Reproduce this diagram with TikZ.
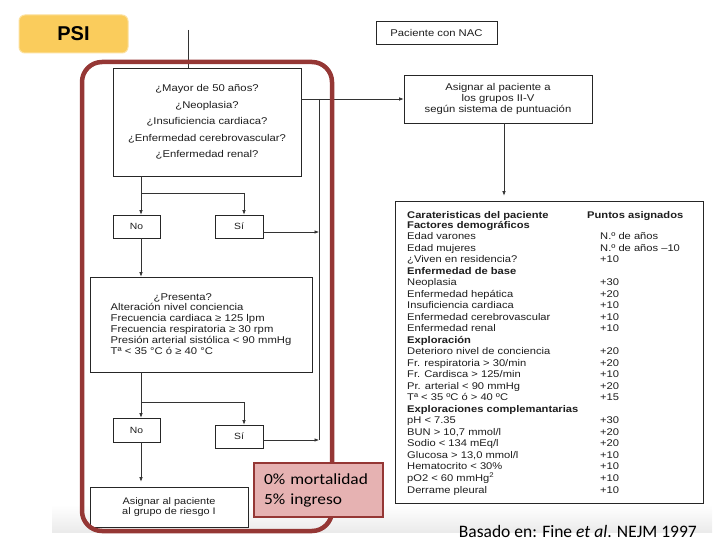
\documentclass[tikz,border=0pt]{standalone}
\usepackage{fontspec}
\setmainfont{Liberation Sans}[FakeStretch=1.15]
\newfontfamily\arialn{Liberation Sans}
\newfontfamily\calib{Carlito}
\newfontfamily\calibw{Carlito}[FakeStretch=1.12]
\usetikzlibrary{arrows.meta}
\definecolor{framered}{RGB}{149,55,53}
\definecolor{pinkfill}{RGB}{230,178,178}
\definecolor{psiyellow}{RGB}{250,204,92}
\definecolor{txt}{RGB}{30,30,30}
\begin{document}
\begin{tikzpicture}[x=1pt,y=-1pt,
  box/.style={draw=black!85, line width=0.6pt, fill=white, inner sep=0pt, text=txt, align=center},
  conn/.style={draw=black!80, line width=0.6pt},
  arr/.style={conn, -{Latex[length=4.5pt,width=3.5pt]}},
  small/.style={font=\fontsize{9.8}{11}\selectfont},
  tiny/.style={font=\fontsize{9}{10}\selectfont}]
\useasboundingbox (0,0) rectangle (720,540);
% light grey band at the bottom
\shade[top color=white, bottom color=black!8] (52,505) rectangle (712,532);

% nodes
\node[box, small, minimum width=121, minimum height=23] (nac) at (436.5,32.5) {Paciente con NAC};
\node[box, minimum width=188, minimum height=108, font=\fontsize{9.8}{16.6}\selectfont] (q1) at (207,122)
  {¿Mayor de 50 años?\\¿Neoplasia?\\¿Insuficiencia cardiaca?\\¿Enfermedad cerebrovascular?\\¿Enfermedad renal?};
\node[box, small, minimum width=188, minimum height=48] (asig) at (498,99)
  {Asignar al paciente a\\los grupos II-V\\según sistema de puntuación};
\node[box, tiny, minimum width=47, minimum height=23] (no1) at (136.5,226.5) {No};
\node[box, tiny, minimum width=48, minimum height=23] (si1) at (239,226.5) {Sí};
\node[box, minimum width=222, minimum height=95, align=left, font=\fontsize{9.8}{11.2}\selectfont] (q2) at (201,324.5)
  {\hspace*{43pt}¿Presenta?\\[-2pt]Alteración nivel conciencia\\Frecuencia cardiaca ≥ 125 lpm\\Frecuencia respiratoria ≥ 30 rpm\\Presión arterial sistólica < 90 mmHg\\Tª < 35 °C ó ≥ 40 °C};
\node[box, tiny, minimum width=47, minimum height=24] (no2) at (136.5,430) {No};
\node[box, tiny, minimum width=48, minimum height=23] (si2) at (239,436.5) {Sí};
\node[box, minimum width=158, minimum height=40, font=\fontsize{9.5}{9.5}\selectfont] (r1) at (169,507)
  {Asignar al paciente\\al grupo de riesgo I};
\node[box, minimum width=308, minimum height=302] (tab) at (549,352) {};
\node[anchor=north west, inner sep=0pt, text=txt, font=\fontsize{9.7}{11.5}\selectfont] (tabtxt) at (407,210) {%
\begin{tabular}{@{}p{180pt}@{}l@{}}
\textbf{Carateristicas del paciente} & \textbf{Puntos asignados}\\[-1.5pt]
\textbf{Factores demográficos} & \\
Edad varones & \hspace*{13pt}N.º de años\\
Edad mujeres & \hspace*{13pt}N.º de años –10\\
¿Viven en residencia? & \hspace*{13pt}+10\\
\textbf{Enfermedad de base} & \\
Neoplasia & \hspace*{13pt}+30\\
Enfermedad hepática & \hspace*{13pt}+20\\
Insuficiencia cardiaca & \hspace*{13pt}+10\\
Enfermedad cerebrovascular & \hspace*{13pt}+10\\
Enfermedad renal & \hspace*{13pt}+10\\
\textbf{Exploración} & \\
Deterioro nivel de conciencia & \hspace*{13pt}+20\\
Fr. respiratoria > 30/min & \hspace*{13pt}+20\\
Fr. Cardisca > 125/min & \hspace*{13pt}+10\\
Pr. arterial < 90 mmHg & \hspace*{13pt}+20\\
Tª < 35 ºC ó > 40 ºC & \hspace*{13pt}+15\\
\textbf{Exploraciones complemantarias} & \\
pH < 7.35 & \hspace*{13pt}+30\\
BUN > 10,7 mmol/l & \hspace*{13pt}+20\\
Sodio < 134 mEq/l & \hspace*{13pt}+20\\
Glucosa > 13,0 mmol/l & \hspace*{13pt}+10\\
Hematocrito < 30\% & \hspace*{13pt}+10\\
pO2 < 60 mmHg\textsuperscript{2} & \hspace*{13pt}+10\\
Derrame pleural & \hspace*{13pt}+10
\end{tabular}};

% coordinates
\coordinate (top) at (188,30);
\coordinate (b1) at (141,193);
\coordinate (b1r) at (244,193);
\coordinate (b2) at (141,402);
\coordinate (b2r) at (244,402);
\coordinate (j1) at (319,99);
\coordinate (s1) at ([yshift=-5.5pt]si1.east);
\coordinate (s2) at ([yshift=-3.5pt]si2.east);
\coordinate (a1) at ([xshift=6pt]asig.south);

% connectors
\draw[conn] (top) -- (top |- q1.north);
\draw[arr] (q1.east |- asig.west) -- (asig.west);
\draw[conn] (j1) -- (j1 |- s2);
\draw[arr] (s1) -- (s1 -| j1);
\draw[arr] (s2) -- (s2 -| j1);
\draw[arr, shorten >=5pt] (a1) -- (a1 |- tab.north);
\draw[conn] (q1.south -| b1) -- (b1) -- (b1r);
\draw[arr] (b1) -- (b1 |- no1.north);
\draw[arr] (b1r) -- (b1r |- si1.north);
\draw[arr] (no1.south -| b1) -- (b1 |- q2.north);
\draw[conn] (q2.south -| b2) -- (b2) -- (b2r);
\draw[arr] (b2) -- (b2 |- no2.north);
\draw[arr] (b2r) -- (b2r |- si2.north);
\draw[arr, shorten >=5pt] (no2.south -| b2) -- (b2 |- r1.north);

% red frame
\node[draw=framered, line width=4.5pt, rounded corners=20pt, minimum width=250, minimum height=469, inner sep=0pt] (frame) at (207,296.5) {};

% PSI label
\node[fill=psiyellow, draw=psiyellow!60!white, line width=1pt, rounded corners=6pt, minimum width=109, minimum height=38, inner sep=0pt, font=\arialn\bfseries\fontsize{20}{24}\selectfont] (psi) at (73.5,34) {PSI};

% pink note
\node[draw=framered, line width=2.5pt, fill=pinkfill, minimum width=129, minimum height=54, inner xsep=10pt, inner ysep=0pt, text width=109pt, align=left, text=black, font=\calibw\fontsize{15.5}{20}\selectfont] (pink) at (318.5,490)
  {0\% mortalidad\\5\% ingreso};

% reference
\node[anchor=base east, inner sep=0pt, text=black, font=\calib\fontsize{17.5}{20}\selectfont] (ref) at (697,537)
  {Basado en: Fine \textit{et al}. NEJM 1997};
\end{tikzpicture}
\end{document}
